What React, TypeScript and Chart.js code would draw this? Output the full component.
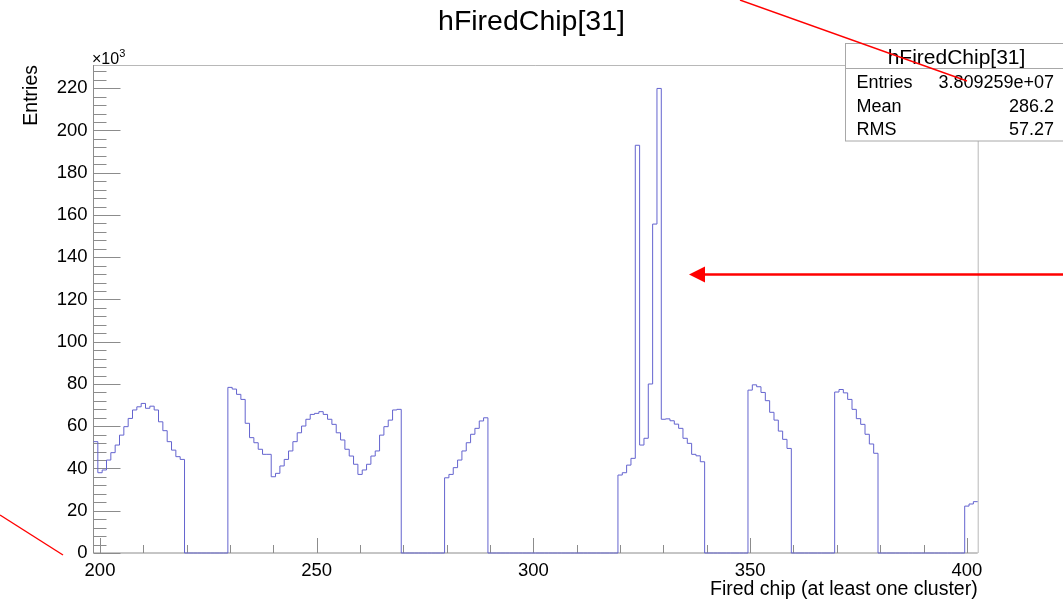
import { useEffect, useRef } from 'react';
import { Chart, registerables } from 'chart.js';

Chart.register(...registerables);

const FONT = '"Liberation Sans", Arial, Helvetica, sans-serif';

// ---- data (entries in units of 10^3) ----
const histTitle = 'hFiredChip[31]';
const xAxisTitle = 'Fired chip (at least one cluster)';
const yAxisTitle = 'Entries';
const firstBinCenter = 199;
const binWidth = 1;
const xRange = [198.5, 402.5];
const yRange = [0, 231];

// bins 199 .. 402
const binContents = [
  52.7, 38.0, 39.3, 44.0, 47.5, 51.1, 55.8, 59.8, 63.7, 67.7, 69.2, 70.8, 68.5, 69.5, 67.7, 62.1, 57.9, 52.7, 48.7, 45.6, 44.3, // 199-219
  0, 0, 0, 0, 0, 0, 0, 0, 0, 0, // 220-229
  78.4, 77.6, 75.1, 72.7, 61.4, 54.6, 52.2, 49.1, 46.7, 46.7, // 230-239
  36.1, 37.7, 41.2, 44.3, 48.3, 52.7, 56.9, 60.1, 63.3, 65.6, // 240-249
  66.1, 66.9, 65.6, 63.3, 60.9, 56.9, 53.5, 49.1, 45.9, 42.0, // 250-259
  37.2, 39.3, 42.0, 45.9, 48.3, 55.8, 59.8, 62.9, 67.7, 68.0, // 260-269
  0, 0, 0, 0, 0, 0, 0, 0, 0, 0, // 270-279
  35.6, 37.2, 40.4, 44.0, 48.3, 52.2, 56.2, 59.0, 62.5, 64.0, // 280-289
  0, 0, 0, 0, 0, 0, 0, 0, 0, 0, // 290-299
  0, 0, 0, 0, 0, 0, 0, 0, 0, 0, // 300-309
  0, 0, 0, 0, 0, 0, 0, 0, 0, 0, // 310-319
  36.9, 38.0, 41.6, 44.8, 193.0, 51.1, 54.3, 80.0, 155.7, 219.9, // 320-329
  63.3, 63.5, 62.6, 61.0, 59.0, 54.3, 51.9, 46.7, 46.0, 43.2, // 330-339
  0, 0, 0, 0, 0, 0, 0, 0, 0, 0, // 340-349
  77.1, 79.6, 78.7, 76.0, 72.1, 66.6, 62.9, 57.7, 53.8, 49.5, // 350-359
  0, 0, 0, 0, 0, 0, 0, 0, 0, 0, // 360-369
  76.2, 77.4, 75.8, 72.7, 68.0, 63.6, 60.9, 56.2, 51.6, 47.2, // 370-379
  0, 0, 0, 0, 0, 0, 0, 0, 0, 0, // 380-389
  0, 0, 0, 0, 0, 0, 0, 0, 0, 0, // 390-399
  22.2, 23.2, 24.3, // 400-402
];

const xTickLabels = [200, 250, 300, 350, 400];
const yTickLabels = [0, 20, 40, 60, 80, 100, 120, 140, 160, 180, 200, 220];
const xMinorTicks = [200, 210, 220, 230, 240, 250, 260, 270, 280, 290, 300, 310, 320, 330, 340, 350, 360, 370, 380, 390, 400];
const yMinorStep = 4;

const statsRows: [string, string][] = [
  ['Entries', '3.809259e+07'],
  ['Mean', '286.2'],
  ['RMS', '57.27'],
];

function buildPoints() {
  const pts: { x: number; y: number }[] = [];
  binContents.forEach((v, i) => {
    pts.push({ x: firstBinCenter + i * binWidth - binWidth / 2, y: v });
  });
  const last = binContents.length - 1;
  pts.push({ x: firstBinCenter + last * binWidth + binWidth / 2, y: binContents[last] });
  return pts;
}

const rootFramePlugin = {
  id: 'rootFrame',
  beforeDatasetsDraw(chart: any) {
    const { ctx, chartArea, scales } = chart;
    const { left, right, top, bottom } = chartArea;
    const x = scales.x;
    const y = scales.y;
    ctx.save();
    ctx.lineWidth = 1;
    // frame (top / right)
    ctx.strokeStyle = '#b8b8b8';
    ctx.beginPath();
    ctx.moveTo(left, top + 0.5);
    ctx.lineTo(right + 0.5, top + 0.5);
    ctx.lineTo(right + 0.5, bottom);
    ctx.stroke();
    // axes
    ctx.strokeStyle = '#8c8c8c';
    ctx.beginPath();
    ctx.moveTo(left, top);
    ctx.lineTo(left, bottom);
    ctx.lineTo(right, bottom);
    ctx.stroke();
    // y ticks (inward)
    ctx.beginPath();
    for (let v = yRange[0]; v <= yRange[1]; v += yMinorStep) {
      const py = Math.round(y.getPixelForValue(v)) + 0.5;
      const len = yTickLabels.includes(v) ? 27 : 13;
      ctx.moveTo(left, py);
      ctx.lineTo(left + len, py);
    }
    ctx.stroke();
    // x ticks (inward)
    ctx.beginPath();
    xMinorTicks.forEach((v) => {
      const px = Math.round(x.getPixelForValue(v)) + 0.5;
      const len = xTickLabels.includes(v) ? 15 : 8;
      ctx.moveTo(px, bottom);
      ctx.lineTo(px, bottom - len);
    });
    ctx.stroke();
    ctx.restore();
  },
  afterDraw(chart: any) {
    const { ctx, chartArea } = chart;
    ctx.save();
    // x10^3 exponent label
    ctx.fillStyle = '#000';
    ctx.textBaseline = 'alphabetic';
    ctx.textAlign = 'left';
    ctx.font = `16px ${FONT}`;
    const ex = chartArea.left - 1.5;
    ctx.fillText('\u00d710', ex, 63.5);
    const w = ctx.measureText('\u00d710').width;
    ctx.font = `11px ${FONT}`;
    ctx.fillText('3', ex + w, 56.5);

    // stats box
    const bx = 845.5, by = 43.5, bw = 240, bh = 97.5;
    ctx.fillStyle = '#ffffff';
    ctx.fillRect(bx, by, bw, bh);
    ctx.strokeStyle = '#a8a8a8';
    ctx.lineWidth = 1;
    ctx.strokeRect(bx, by, bw, bh);
    ctx.beginPath();
    ctx.moveTo(bx, 68.5);
    ctx.lineTo(bx + bw, 68.5);
    ctx.stroke();
    ctx.fillStyle = '#000';
    ctx.font = `21px ${FONT}`;
    ctx.textAlign = 'center';
    ctx.fillText(histTitle, 956.5, 63.5);
    ctx.font = `18px ${FONT}`;
    const baselines = [87.5, 111.5, 135];
    statsRows.forEach(([k, v], i) => {
      ctx.textAlign = 'left';
      ctx.fillText(k, 856.5, baselines[i]);
      ctx.textAlign = 'right';
      ctx.fillText(v, 1054, baselines[i]);
    });

    // red annotations
    ctx.strokeStyle = '#ff0000';
    ctx.fillStyle = '#ff0000';
    ctx.lineWidth = 1.4;
    ctx.beginPath();
    ctx.moveTo(740, 0);
    ctx.lineTo(967, 81);
    ctx.stroke();
    ctx.beginPath();
    ctx.moveTo(0, 515);
    ctx.lineTo(63, 555);
    ctx.stroke();
    ctx.lineWidth = 2.6;
    ctx.beginPath();
    ctx.moveTo(1063, 274.5);
    ctx.lineTo(703, 274.5);
    ctx.stroke();
    ctx.beginPath();
    ctx.moveTo(689, 274.5);
    ctx.lineTo(705, 266.5);
    ctx.lineTo(705, 282.5);
    ctx.closePath();
    ctx.fill();
    ctx.restore();
  },
};

export default function App() {
  const canvasRef = useRef<HTMLCanvasElement | null>(null);

  useEffect(() => {
    const canvas = canvasRef.current;
    if (!canvas) return;
    const chart = new Chart(canvas, {
      type: 'line',
      data: {
        datasets: [
          {
            label: histTitle,
            data: buildPoints(),
            stepped: 'before',
            borderColor: '#6464cf',
            borderWidth: 1,
            pointRadius: 0,
            fill: false,
            clip: false as any,
          },
        ],
      },
      options: {
        animation: false,
        responsive: false,
        devicePixelRatio: 1,
        layout: { padding: 0 },
        plugins: {
          legend: { display: false },
          tooltip: { enabled: false },
          title: {
            display: true,
            text: histTitle,
            color: '#000',
            font: { family: FONT, size: 28.5, weight: 'normal', lineHeight: 1.2 },
            padding: { top: 5.3, bottom: 25.5 },
          },
        },
        scales: {
          x: {
            type: 'linear',
            min: xRange[0],
            max: xRange[1],
            grid: { display: false, drawTicks: false },
            border: { display: false },
            afterBuildTicks: (scale: any) => {
              scale.ticks = xTickLabels.map((v) => ({ value: v }));
            },
            afterFit: (scale: any) => {
              scale.height = 46;
            },
            ticks: {
              color: '#000',
              padding: 6.5,
              maxRotation: 0,
              autoSkip: false,
              font: { family: FONT, size: 18.5 },
              callback: (v: any) => String(v),
            },
            title: {
              display: true,
              text: xAxisTitle,
              align: 'end',
              color: '#000',
              font: { family: FONT, size: 19.5, lineHeight: 1.0 },
              padding: { top: 0, bottom: 0 },
            },
          },
          y: {
            type: 'linear',
            min: yRange[0],
            max: yRange[1],
            grid: { display: false, drawTicks: false },
            border: { display: false },
            afterBuildTicks: (scale: any) => {
              scale.ticks = yTickLabels.map((v) => ({ value: v }));
            },
            afterFit: (scale: any) => {
              scale.width = 93.5;
            },
            ticks: {
              color: '#000',
              padding: 6,
              autoSkip: false,
              font: { family: FONT, size: 18.5 },
              callback: (v: any) => String(v),
            },
            title: {
              display: true,
              text: yAxisTitle,
              align: 'end',
              color: '#000',
              font: { family: FONT, size: 19.5, lineHeight: 1.0 },
              padding: { top: 21.8, bottom: 0 },
            },
          },
          // empty right-hand margin (keeps the title centred on the canvas)
          yRight: {
            type: 'linear',
            position: 'right',
            display: true,
            grid: { display: false, drawTicks: false },
            border: { display: false },
            ticks: { display: false },
            afterFit: (scale: any) => {
              scale.width = 85.3;
            },
          },
        },
      },
      plugins: [rootFramePlugin],
    });
    return () => chart.destroy();
  }, []);

  return (
    <div style={{ position: 'fixed', left: 0, top: 0, width: 1063, height: 599, background: '#fff' }}>
      <canvas ref={canvasRef} width={1063} height={599} style={{ width: 1063, height: 599, display: 'block' }} />
    </div>
  );
}
